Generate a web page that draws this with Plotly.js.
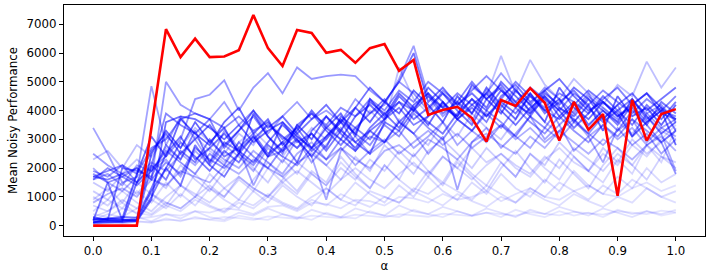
<!DOCTYPE html>
<html>
<head>
<meta charset="utf-8">
<script src="https://cdn.plot.ly/plotly-3.0.1.min.js"></script>
<style>html,body{margin:0;padding:0;background:#fff}#chart{width:718px;height:277px}</style>
</head>
<body>
<div id="chart"></div>
<script>
const alpha = [0,0.025,0.05,0.075,0.1,0.125,0.15,0.175,0.2,0.225,0.25,0.275,0.3,0.325,0.35,0.375,0.4,0.425,0.45,0.475,0.5,0.525,0.55,0.575,0.6,0.625,0.65,0.675,0.7,0.725,0.75,0.775,0.8,0.825,0.85,0.875,0.9,0.925,0.95,0.975,1.0];

const redSeries = [0,0,0,0,3400,6830,5860,6500,5860,5880,6100,7320,6170,5550,6800,6700,6010,6110,5660,6170,6310,5380,5760,3850,4020,4130,3740,2920,4370,4160,4780,4270,2955,4300,3330,3880,1040,4370,2955,3880,4050];

// darker blue runs
const d01 = [150,180,200,220,2500,3300,2700,3600,2900,3400,2500,3900,3100,2600,3500,3000,3800,3300,4100,3600,4300,3900,4700,4200,3600,4500,3900,4800,4200,3700,4600,4000,4400,3600,4200,3300,4500,3800,4100,3500,4200];
const d02 = [200,220,250,1800,3100,2400,3700,3200,2800,3600,4100,3200,3700,2800,3300,4000,3400,3900,3100,4400,3800,4600,4100,3500,4300,3800,4900,4400,3900,4700,4200,3600,4800,4100,3700,4300,3900,3100,3600,4000,2800];
const d03 = [100,120,150,150,900,3600,3800,3700,3400,3000,3500,2900,3300,3600,3100,2700,3400,3000,3800,4200,3700,4500,4000,4800,4300,3700,4200,4600,4000,3500,4100,4500,3800,4300,3500,4000,3600,4400,3800,3200,3600];
const d04 = [250,200,2000,1900,1700,2800,2300,3300,2200,2900,2600,3100,2400,3600,2900,3200,2700,3800,3400,3900,4400,3600,4100,4600,3900,4300,5000,4400,4800,4100,4600,3900,4300,4700,4100,3600,4000,4400,3700,4100,3300];
const d05 = [180,1500,200,160,2100,1600,2600,2200,3000,2400,2700,3200,2500,2900,3400,2700,3100,3600,2900,3300,3700,4100,3500,3800,4300,3700,4100,3600,4500,4900,4300,4700,4100,3800,4400,4000,3500,4200,4600,3900,3700];
const d06 = [120,150,130,200,1200,2000,2900,2400,1900,2600,2200,3000,3500,3100,2700,3200,2600,3300,2900,2500,3600,3300,4000,3600,3200,3900,4400,3800,4300,3900,4500,4000,3700,4200,4700,4300,3800,4100,3500,4300,3900];
const d07 = [1700,1600,1800,1500,2100,3900,3500,3200,3700,2700,3300,3800,3100,2500,3500,3900,3300,2800,3400,3000,3700,4300,4000,4500,4100,4600,4200,3800,4400,5000,4500,4100,4600,4300,3900,4400,4800,4200,3600,4000,4500];
const d08 = [220,250,200,180,1000,2000,1400,2800,2100,1700,2500,3100,2400,2900,2200,3300,3800,3200,2700,3400,3900,4300,3700,4100,4600,4000,3500,4400,4900,4300,3800,4500,4000,3400,3900,4500,4000,3500,4200,3700,4300];
const d09 = [100,250,300,280,1300,2500,3100,2300,2700,3200,2600,2200,2900,3500,3000,2400,3100,3700,3200,4300,3900,3400,4200,4600,4100,3800,4400,4000,4700,4200,3900,4600,4200,4800,4400,3700,4200,4600,4000,4400,4800];
const d10 = [1700,1900,2100,1800,2700,3000,3700,3900,3700,3400,3800,3300,3600,3000,3400,3900,3500,4100,3800,4400,4000,4700,4300,5000,4600,4200,4700,5200,4700,4300,4800,4400,4000,4600,4200,4700,4300,3900,4400,4000,3800];
const d11 = [1600,2000,1700,1400,1900,2600,2200,1800,2500,2100,2900,2400,2000,2700,3200,2600,3000,3600,3200,2800,3500,3100,3900,3400,3000,3700,3300,4000,3600,3100,3800,3400,4100,3700,3200,3800,3300,4000,3500,2900,3300];
const d12 = [300,200,150,1500,2600,3200,2500,3000,3500,2800,3300,4000,3400,3800,3200,3700,4200,3600,4100,4800,4300,5000,6000,4300,4800,4200,4600,4100,5000,4500,4000,4700,5100,4500,4000,4300,3800,4200,4600,4100,3700];
const d13 = [1800,1500,1700,2000,1600,2200,1800,2700,2300,2000,2500,2100,2800,2400,2100,2700,2300,3000,2600,3300,2900,3600,3200,3800,4200,3700,3300,3900,3400,4100,3600,3200,3800,3300,2900,3500,3100,3700,3300,2900,1800];

// medium blue runs
const m01 = [3400,2500,1500,1700,4850,2800,3800,3000,2200,3300,2700,1400,2400,2600,3000,2200,2800,3400,2600,3100,2900,3600,3200,2500,3100,1250,2900,3400,2700,3200,3800,3000,3500,2600,3100,2200,3400,2800,3200,2500,3000];
const m02 = [2500,2100,1800,2000,1600,5000,4200,3900,3700,4300,3500,4000,3200,3800,4300,3700,4000,3600,4400,3900,4200,5100,6250,4500,3800,4300,3600,4700,4100,4800,3900,4400,3500,4000,4600,3700,4200,3100,3900,3400,3700];
const m03 = [1900,1700,2100,1500,2000,2400,3000,4400,4550,5050,4000,4800,5300,4600,5500,5100,5200,5250,5200,4700,4300,5000,4600,4000,4700,4300,3900,4600,5300,4700,4200,4800,4400,3900,4500,4100,3700,4300,3900,4200,3600];
const m04 = [1600,1800,1400,2100,1900,2300,1700,2600,2100,2800,2400,1900,2700,2200,3000,2400,900,2600,3100,2500,2900,3300,2700,3100,3600,2800,3300,2900,3500,3100,2700,3400,3000,3600,3200,2800,3300,3700,2900,3400,3100];
const m05 = [2000,1500,1200,1700,2200,1900,2500,2100,2700,2300,2000,2600,2200,1800,2500,2900,2300,2700,2100,2600,3000,2500,2900,3300,2800,3200,2700,3100,3500,3000,3400,2900,3300,3700,3100,3500,3000,3400,2800,3200,1900];
const m06 = [800,1100,1300,1000,1600,1400,1900,1700,1500,2100,1800,2300,2000,1700,2200,2500,2100,2700,2300,2000,2600,2800,2400,3000,2700,2300,2900,3200,2800,2500,3100,2700,3300,2900,2500,3000,2700,2300,2800,3100,2600];

// faint blue runs
const f01 = [100,150,200,250,300,400,350,500,450,600,550,400,650,700,500,800,750,600,900,850,700,1000,950,800,1100,900,1000,1200,850,1100,1300,1000,900,1200,1400,1100,1000,1300,1500,1200,1400];
const f02 = [300,500,800,400,900,600,1100,700,1300,900,600,1200,800,1400,1000,700,1300,900,1500,1100,800,1400,1000,1700,1200,900,1500,1100,1800,1300,1000,1600,1200,1900,1400,1100,1700,1300,2000,1500,1800];
const f03 = [0,200,100,300,150,400,250,500,300,200,450,350,600,400,250,550,400,300,600,450,350,700,500,400,650,500,350,600,450,300,550,400,650,500,350,600,450,300,500,400,550];
const f04 = [500,900,600,1200,800,1500,1000,1800,1300,1000,1600,1200,2000,1500,1100,1800,1400,2200,1700,1300,2100,1600,1200,1900,1500,2300,1800,1400,2200,1700,2500,2000,1600,2400,1900,1500,2300,1800,2800,2200,3400];
const f05 = [1000,700,1200,800,500,1000,1400,1100,800,1300,1700,1300,1000,1500,1900,1500,1100,1600,2000,1600,1300,1800,2200,1700,2400,2000,1600,2100,2500,2000,1700,2300,2700,2200,1900,2500,2100,2800,2400,3000,3500];
const f06 = [200,400,300,600,400,800,600,1000,700,500,900,700,1100,800,600,1000,1300,900,700,1200,1000,800,1300,1100,1500,1200,900,1400,1100,800,1300,1000,1500,1200,900,1400,1100,1600,1300,1000,1200];
const f07 = [1500,1200,1800,2300,1900,2700,2300,3100,2600,2200,2900,3300,2800,2400,3100,2700,3500,3000,2600,3300,2900,3700,3200,2800,3600,3100,3900,3400,3000,3700,4300,3600,3200,3900,3400,4100,3600,3200,3800,3300,3000];
const f08 = [0,100,50,150,100,250,150,300,200,150,350,250,200,400,300,200,450,300,250,500,350,300,550,400,300,500,350,450,300,550,400,300,500,350,450,300,550,400,500,350,450];
const f09 = [700,500,900,600,1100,800,600,1000,1400,1000,1700,1300,1000,1600,2200,1800,1400,2000,1600,2300,1900,2600,2100,1800,2400,2000,2700,2200,2500,2100,1800,2400,2000,2700,2300,1900,2500,2100,2800,2400,2200];
const f10 = [2300,2600,2000,2800,2400,3100,2700,3400,2900,2500,3200,2800,3600,3100,2700,3400,3000,3700,3300,4000,3500,5500,4400,3900,4600,4100,4800,4500,5900,4600,5760,4900,4400,5100,4600,4200,4900,4500,5700,4800,5500];
const f11 = [50,100,80,150,120,200,180,250,220,300,260,200,320,280,240,350,300,260,380,330,290,400,350,310,420,370,330,450,390,350,470,410,360,480,420,380,500,440,400,520,460];
const f12 = [400,300,600,450,350,700,500,900,650,450,800,600,1000,750,550,900,700,1100,850,650,1000,800,1200,950,700,1100,850,650,1000,800,1200,900,700,1100,850,650,1000,800,1300,1000,800];
const f13 = [900,1300,800,1500,1100,700,1400,1000,1800,1300,900,1600,2200,1700,1200,1900,1500,2400,1800,1300,2100,1600,2500,1900,1400,2200,1700,1200,2000,2600,2000,1500,2300,1800,1300,2100,2700,2100,1600,2400,2000];
const f14 = [1200,900,1500,1100,1700,1300,2100,1600,1200,1900,2500,2000,1500,2300,1800,2600,2100,1600,2400,1900,2800,2300,1800,2600,3000,2500,2000,2700,2200,1700,2500,2100,2900,2400,1900,2700,2200,3000,2500,2900,3300];

const faintRuns = [f11,f08,f03,f01,f12,f06,f02,f04,f05,f09,f13,f14,f07,f10];
const faintOpacity = [0.1,0.1,0.12,0.12,0.13,0.14,0.15,0.16,0.17,0.18,0.18,0.2,0.22,0.25];
const mediumRuns = [m06,m05,m04,m01,m02,m03];
const mediumOpacity = [0.3,0.32,0.34,0.36,0.38,0.4];
const darkRuns = [d13,d11,d10,d07,d04,d05,d06,d08,d09,d12,d03,d02,d01];
const darkOpacity = [0.42,0.44,0.46,0.48,0.5,0.5,0.52,0.52,0.54,0.55,0.56,0.58,0.6];

const traces = [];
function addRuns(runs, ops) {
  runs.forEach((ys, i) => {
    traces.push({
      x: alpha, y: ys, type: 'scatter', mode: 'lines', hoverinfo: 'skip', showlegend: false,
      line: {color: 'rgba(0,0,255,' + ops[i] + ')', width: 1.8}
    });
  });
}
addRuns(faintRuns, faintOpacity);
addRuns(mediumRuns, mediumOpacity);
addRuns(darkRuns, darkOpacity);
traces.push({x: alpha, y: redSeries, type: 'scatter', mode: 'lines', hoverinfo: 'skip', showlegend: false,
  line: {color: '#ff0000', width: 2.6}});

const font = {family: 'DejaVu Sans, sans-serif', size: 11.8, color: '#000'};
const layout = {
  width: 718, height: 277,
  margin: {l: 64, r: 13, t: 5, b: 41},
  paper_bgcolor: '#fff', plot_bgcolor: '#fff',
  font: font,
  showlegend: false,
  xaxis: {
    range: [-0.05, 1.05], tickvals: [0,0.1,0.2,0.3,0.4,0.5,0.6,0.7,0.8,0.9,1.0], tickformat: '.1f',
    showgrid: false, zeroline: false, showline: true, mirror: true, linecolor: '#000', linewidth: 1,
    ticks: 'outside', ticklen: 4, tickcolor: '#000', tickwidth: 1, tickfont: font,
    title: {text: 'α', font: font, standoff: 4}
  },
  yaxis: {
    range: [-360, 7670], tickvals: [0,1000,2000,3000,4000,5000,6000,7000],
    showgrid: false, zeroline: false, showline: true, mirror: true, linecolor: '#000', linewidth: 1,
    ticks: 'outside', ticklen: 4, tickcolor: '#000', tickwidth: 1, tickfont: font,
    title: {text: 'Mean Noisy Performance', font: font, standoff: 6}
  }
};
Plotly.newPlot('chart', traces, layout, {displayModeBar: false, staticPlot: true});
</script>
</body>
</html>
